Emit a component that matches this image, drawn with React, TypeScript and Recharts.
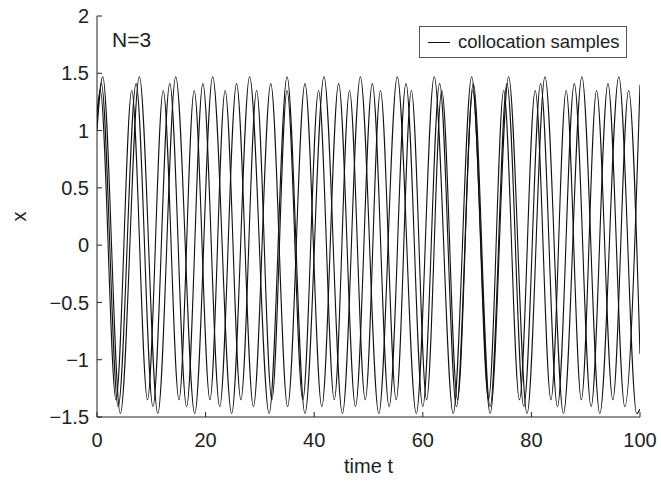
import { LineChart, Line, XAxis, YAxis } from 'recharts';

// extrema (time t of each peak / trough) for the three samples
const peaksA = [1.05, 7.8, 14.5, 21.3, 28.1, 35.0, 41.8, 48.5, 55.3, 62.1, 69.0, 75.8, 82.5, 89.3, 96.1];
const troughsA = [4.3, 11.2, 18.0, 24.8, 31.7, 38.3, 45.2, 51.9, 58.8, 65.6, 72.4, 79.2, 85.9, 92.6, 99.4];
const peaksB = [0.8, 7.2, 13.4, 19.5, 25.7, 32.0, 38.3, 44.5, 50.7, 56.9, 63.1, 69.3, 75.5, 81.7, 87.9, 94.1];
const troughsB = [3.9, 10.3, 16.5, 22.6, 28.8, 35.1, 41.4, 47.6, 53.8, 60.0, 66.2, 72.4, 78.6, 84.8, 91.0, 97.2];
const peaksC = [0.6, 6.4, 12.2, 17.9, 23.6, 29.4, 35.0, 40.8, 46.5, 52.2, 57.9, 63.5, 69.2, 74.9, 80.7, 86.4, 92.0, 97.9];
const troughsC = [3.5, 9.3, 15.1, 20.8, 26.5, 32.2, 37.9, 43.7, 49.4, 55.1, 60.7, 66.4, 72.1, 77.8, 83.6, 89.2, 95.0];

// peak height of each sample, and the values at t=0 and t=100
const amplitudes = [1.47, 1.41, 1.35];
const startValues = [1.0, 1.08, 1.15];
const endValues = [-1.43, 1.4, -0.95];

const xTicks = [0, 20, 40, 60, 80, 100];
const yTicks = [-1.5, -1, -0.5, 0, 0.5, 1, 1.5, 2];

const FONT = '"Liberation Sans", Arial, Helvetica, sans-serif';
const INK = '#222';

function buildSeries(peaks: number[], troughs: number[], i: number) {
  const pts = [
    { t: 0, x: startValues[i] },
    ...peaks.map((t) => ({ t, x: amplitudes[i] })),
    ...troughs.map((t) => ({ t, x: -amplitudes[i] })),
    { t: 100, x: endValues[i] },
  ];
  return pts.sort((a, b) => a.t - b.t);
}

const seriesA = buildSeries(peaksA, troughsA, 0);
const seriesB = buildSeries(peaksB, troughsB, 1);
const seriesC = buildSeries(peaksC, troughsC, 2);

const fmt = (v: number) => String(v).replace('-', '\u2212');

export default function App() {
  const tickStyle = { fill: INK, fontSize: 20, fontFamily: FONT };
  return (
    <div style={{ position: 'absolute', left: 0, top: 0, width: 661, height: 484, background: '#fff' }}>
      <LineChart width={661} height={484} margin={{ top: 16, right: 21, bottom: 0, left: 0 }}>
        <XAxis
          type="number"
          dataKey="t"
          domain={[0, 100]}
          ticks={xTicks}
          allowDataOverflow
          height={67}
          tickSize={-5}
          tickMargin={21}
          stroke={INK}
          tick={tickStyle}
          label={{ value: 'time t', position: 'insideBottom', offset: 11, fill: INK, fontSize: 20, fontFamily: FONT }}
        />
        <XAxis
          xAxisId="top"
          orientation="top"
          type="number"
          domain={[0, 100]}
          ticks={xTicks}
          height={0}
          tickSize={-5}
          stroke={INK}
          tick={false}
        />
        <YAxis
          type="number"
          domain={[-1.5, 2]}
          ticks={yTicks}
          allowDataOverflow
          width={97}
          tickSize={-5}
          tickMargin={13}
          stroke={INK}
          tick={tickStyle}
          tickFormatter={fmt}
          label={{
            value: 'x',
            angle: -90,
            position: 'insideLeft',
            offset: 19,
            fill: INK,
            fontSize: 20,
            fontFamily: FONT,
            style: { textAnchor: 'middle' },
          }}
        />
        <YAxis
          yAxisId="right"
          orientation="right"
          type="number"
          domain={[-1.5, 2]}
          ticks={yTicks}
          width={0}
          tickSize={-5}
          stroke={INK}
          tick={false}
        />
        <Line data={seriesA} dataKey="x" type="monotone" stroke="#111" strokeWidth={1.1} dot={false} isAnimationActive={false} />
        <Line data={seriesB} dataKey="x" type="monotone" stroke="#111" strokeWidth={1.1} dot={false} isAnimationActive={false} />
        <Line data={seriesC} dataKey="x" type="monotone" stroke="#111" strokeWidth={1.1} dot={false} isAnimationActive={false} />
      </LineChart>
      <div
        style={{
          position: 'absolute', left: 112, top: 29, fontSize: 21, lineHeight: 1,
          fontFamily: FONT, color: INK,
        }}
      >
        N=3
      </div>
      <div
        style={{
          position: 'absolute', left: 419, top: 26, width: 206, height: 30,
          border: '1px solid #555', background: '#fff', display: 'flex', alignItems: 'center',
          fontFamily: FONT, fontSize: 18.5, color: INK,
        }}
      >
        <span style={{ display: 'inline-block', width: 22, height: 0, borderTop: '1px solid #111', marginLeft: 8, marginRight: 8 }} />
        <span>collocation samples</span>
      </div>
    </div>
  );
}
